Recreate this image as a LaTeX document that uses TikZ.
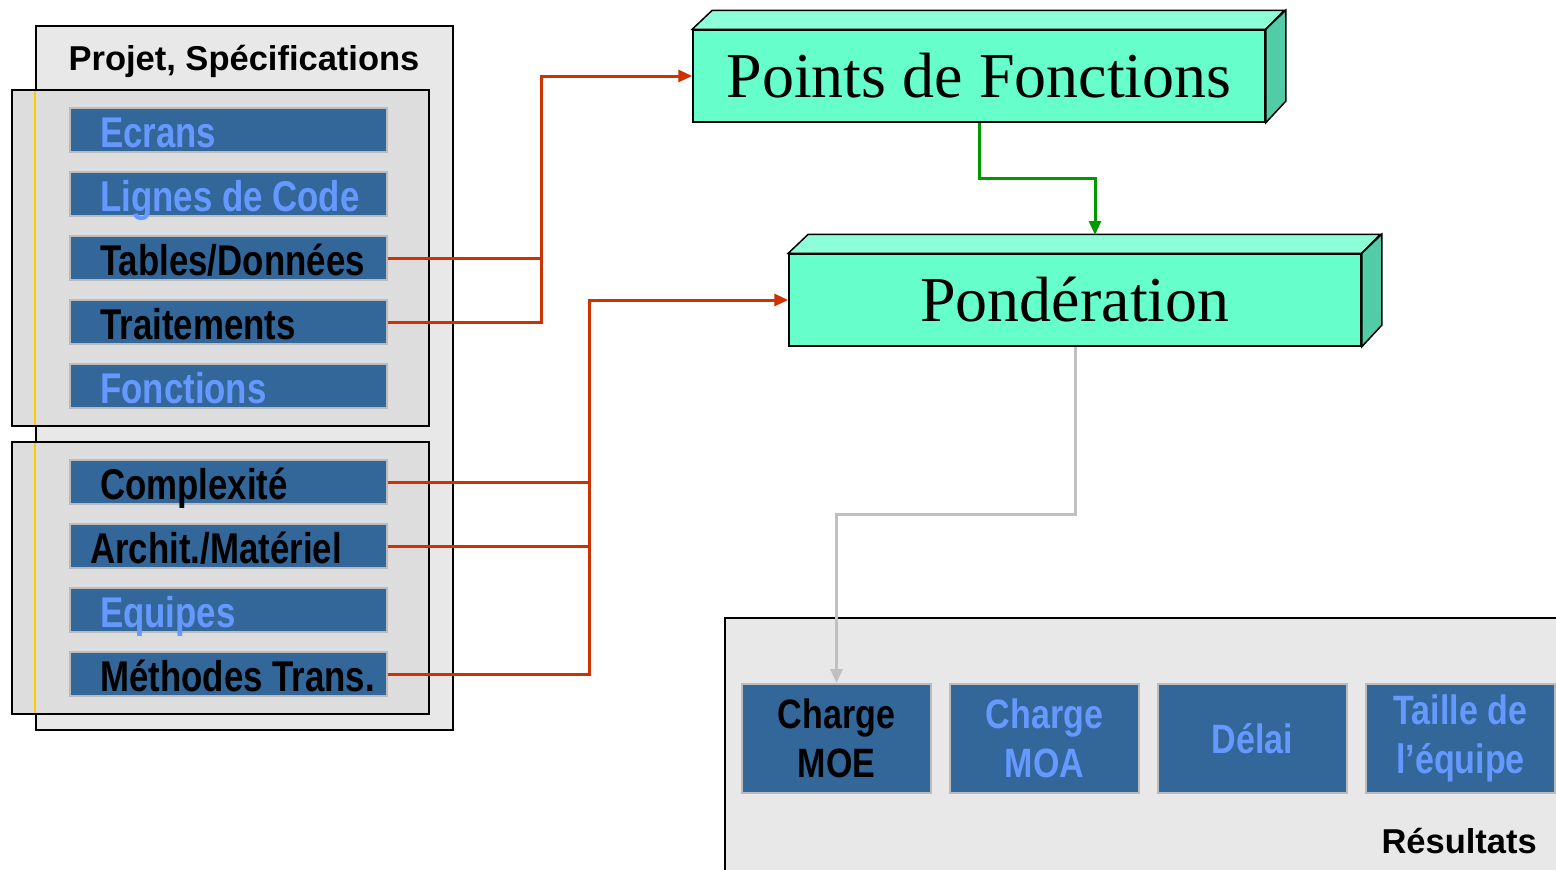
\documentclass[tikz,border=0pt]{standalone}
\usepackage{fontspec}
\setmainfont{Liberation Sans}
\newfontfamily\narrowf{Liberation Sans}[FakeStretch=0.81]
\newfontfamily\resf{Liberation Sans}[FakeStretch=0.83]
\newfontfamily\timesf{Liberation Serif}
\usetikzlibrary{arrows.meta}
\definecolor{barblue}{HTML}{336699}
\definecolor{lblue}{HTML}{6699FF}
\definecolor{panelgray}{HTML}{E8E8E8}
\definecolor{innergray}{HTML}{DDDDDD}
\definecolor{barborder}{HTML}{BBBBBB}
\definecolor{mint}{HTML}{66FFCC}
\definecolor{minttop}{HTML}{8CFFD8}
\definecolor{mintside}{HTML}{52CCA6}
\definecolor{redline}{HTML}{CC3300}
\definecolor{greenline}{HTML}{009900}
\definecolor{grayline}{HTML}{C0C0C0}
\definecolor{yellowline}{HTML}{FFCC00}
\tikzset{
  panel/.style={fill=panelgray,draw=black,line width=2},
  innerbox/.style={fill=innergray,draw=black,line width=2},
  barbox/.style={rectangle,fill=barblue,draw=barborder,line width=2,minimum width=317,minimum height=44,inner sep=0},
  bartext/.style={anchor=base west,inner sep=0,font=\narrowf\bfseries\fontsize{43}{50}\selectfont},
  dark/.style={text=black},
  light/.style={text=lblue},
  resbox/.style={rectangle,fill=barblue,draw=barborder,line width=2,minimum width=189,minimum height=109,inner sep=0,align=center,font=\resf\bfseries\fontsize{41}{49}\selectfont},
  front/.style={rectangle,fill=mint,draw=black,line width=1.5,minimum width=572,minimum height=92,inner sep=0,text height=42,text depth=0,font=\timesf\fontsize{64}{70}\selectfont},
  topface/.style={fill=minttop,draw=black,line width=1.5,line join=miter},
  sideface/.style={fill=mintside,draw=black,line width=1.5,line join=miter},
  redarrow/.style={draw=redline,line width=3,-{Triangle[length=14,width=12]}},
  redconn/.style={draw=redline,line width=3},
  greenarrow/.style={draw=greenline,line width=3,-{Triangle[length=14,width=12]}},
  grayarrow/.style={draw=grayline,line width=3,-{Triangle[length=14,width=12]}},
}
\begin{document}
\begin{tikzpicture}[x=1pt,y=-1pt]
\useasboundingbox (0,0) rectangle (1556,870);
\clip (0,0) rectangle (1556,870);

% left panel
\draw[panel] (36,26) rectangle (453,730);
\node[anchor=base,inner sep=0,font=\bfseries\fontsize{34.5}{40}\selectfont] (title) at (244,70) {Projet, Spécifications};

\draw[innerbox] (12,90) rectangle (429,426);
\draw[yellowline,line width=2] (35,91) -- (35,425);
\draw[innerbox] (12,442) rectangle (429,714);
\draw[yellowline,line width=2] (35,443) -- (35,713);

\node[barbox] (ecrans) at (228.5,130) {};
\node[bartext,light] (tecrans) at ([xshift=31,yshift=6]ecrans.south west) {Ecrans};
\node[barbox] (lignes) at (228.5,194) {};
\node[bartext,light] (tlignes) at ([xshift=31,yshift=6]lignes.south west) {Lignes de Code};
\node[barbox] (tables) at (228.5,258) {};
\node[bartext,dark] (ttables) at ([xshift=31,yshift=6]tables.south west) {Tables/Données};
\node[barbox] (trait) at (228.5,322) {};
\node[bartext,dark] (ttrait) at ([xshift=31,yshift=6]trait.south west) {Traitements};
\node[barbox] (fonct) at (228.5,386) {};
\node[bartext,light] (tfonct) at ([xshift=31,yshift=6]fonct.south west) {Fonctions};

\node[barbox] (compl) at (228.5,482) {};
\node[bartext,dark] (tcompl) at ([xshift=31,yshift=6]compl.south west) {Complexité};
\node[barbox] (arch) at (228.5,546) {};
\node[bartext,dark] (tarch) at ([xshift=21,yshift=6]arch.south west) {Archit./Matériel};
\node[barbox] (equip) at (228.5,610) {};
\node[bartext,light] (tequip) at ([xshift=31,yshift=6]equip.south west) {Equipes};
\node[barbox] (meth) at (228.5,674) {};
\node[bartext,dark] (tmeth) at ([xshift=31,yshift=6]meth.south west) {Méthodes Trans.};

% 3D boxes
\node[front] (pf) at (979,76) {Points de Fonctions};
\draw[topface] (pf.north west) -- ++(20,-19) -- ++(572,0) -- (pf.north east) -- cycle;
\draw[sideface] (pf.north east) -- ++(20,-19) -- ++(0,91) -- (pf.south east) -- cycle;

\node[front] (pond) at (1075,300) {Pondération};
\draw[topface] (pond.north west) -- ++(20,-19) -- ++(572,0) -- (pond.north east) -- cycle;
\draw[sideface] (pond.north east) -- ++(20,-19) -- ++(0,91) -- (pond.south east) -- cycle;

% results panel
\draw[panel] (725,618) rectangle (1600,900);
\node[resbox,dark] (moe) at (836.5,738.5) {Charge\\MOE};
\node[resbox,light] (moa) at (1044.5,738.5) {Charge\\MOA};
\node[resbox,light] (delai) at (1252.5,738.5) {Délai};
\node[resbox,light] (taille) at (1460.5,738.5) {Taille de\\l’équipe};
\node[anchor=base east,inner sep=0,font=\bfseries\fontsize{34.5}{40}\selectfont] (res) at (1537,853) {Résultats};

% connectors
\coordinate (jr1) at (541,258);
\draw[redarrow] (tables.east) -- (jr1) |- (pf.west);
\draw[redconn] (trait.east) -| (jr1);

\coordinate (jr2) at (589,482);
\draw[redarrow] (compl.east) -- (jr2) |- (pond.west);
\draw[redconn] (arch.east) -- (arch.east -| jr2);
\draw[redconn] (meth.east) -| (jr2);

\coordinate (gtgt) at (1095,235);
\draw[greenarrow] (pf.south) -- ++(0,56) -| (gtgt);

\draw[grayarrow] (pond.south) -- ++(0,168) -| (moe.north);
\end{tikzpicture}
\end{document}
